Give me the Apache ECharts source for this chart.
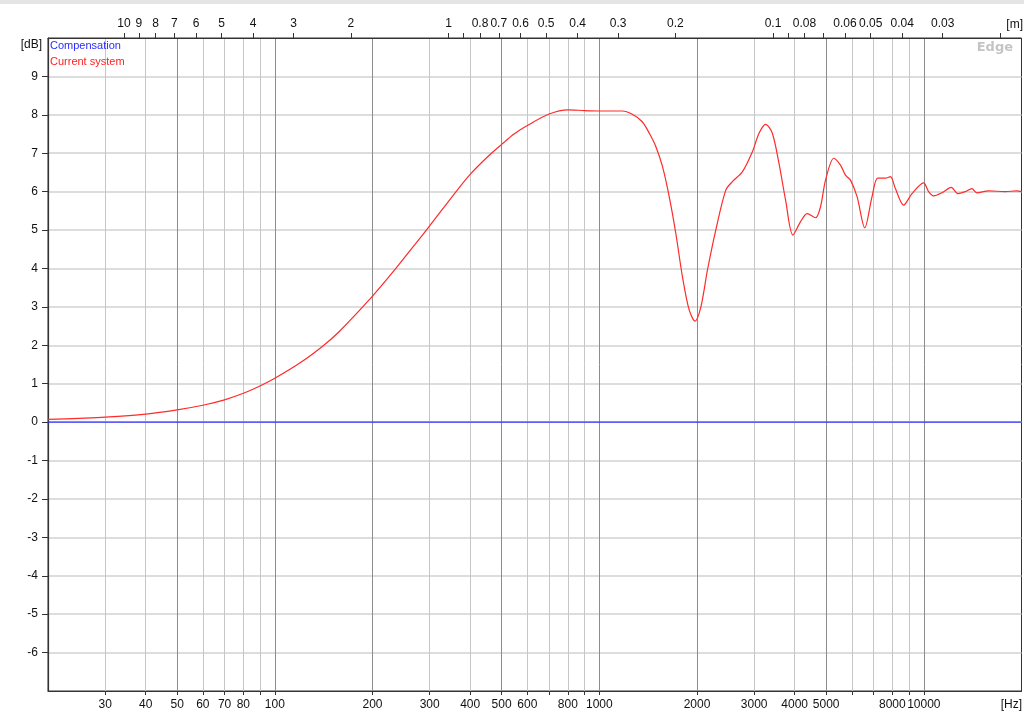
<!DOCTYPE html>
<html>
<head>
<meta charset="utf-8">
<script src="https://cdn.jsdelivr.net/npm/echarts@6/dist/echarts.min.js"></script>
<style>
html,body{margin:0;padding:0;background:#fff;}
#chart{width:1024px;height:723px;}
</style>
</head>
<body>
<div id="chart"></div>
<script>
// ---- data (frequency in Hz, level in dB) ----
const freqHz = [20, 25, 30, 40, 50, 60, 70, 80, 90, 100, 120, 141, 158, 200, 236, 270, 300, 361, 400, 457,
  500, 546, 600, 700, 800, 900, 1000, 1100, 1177, 1260, 1356, 1430, 1494, 1566, 1642, 1721, 1804, 1892, 1972,
  2056, 2154, 2285, 2453, 2571, 2761, 2963, 3106, 3256, 3413, 3577, 3750, 3950, 4171, 4370, 4638, 4806,
  4979, 5280, 5536, 5737, 5943, 6227, 6577, 6925, 7211, 7613, 7888, 8173, 8667, 9193, 9986, 10346, 10719,
  11366, 12151, 12726, 13418, 14060, 14566, 15822, 17807, 19332, 20000];
const currentDb = [0.07, 0.10, 0.13, 0.21, 0.32, 0.44, 0.58, 0.75, 0.94, 1.14, 1.55, 1.99, 2.36, 3.28, 4.0, 4.62, 5.11, 5.99, 6.45, 6.94,
  7.23, 7.5, 7.72, 8.02, 8.13, 8.11, 8.1, 8.1, 8.1, 8.02, 7.82, 7.5, 7.17, 6.65, 5.87, 4.91, 3.78, 2.92, 2.63,
  3.0, 3.96, 5.0, 6.04, 6.26, 6.52, 7.04, 7.52, 7.75, 7.52, 6.74, 5.78, 4.87, 5.22, 5.43, 5.32, 5.61,
  6.30, 6.87, 6.69, 6.43, 6.30, 5.87, 5.06, 5.87, 6.35, 6.35, 6.39, 6.08, 5.65, 5.95, 6.23, 6.0, 5.89,
  5.97, 6.11, 5.95, 6.0, 6.08, 5.97, 6.02, 6.0, 6.02, 6.0];
const compFreqHz = [20, 20000];
const compDb = [0, 0];

// ---- axis ticks / labels ----
const freqMin = 20, freqMax = 20000;
const freqTicks = [30,40,50,60,70,80,90,100,200,300,400,500,600,700,800,900,1000,2000,3000,4000,5000,6000,7000,8000,9000,10000];
const freqLabels = [30,40,50,60,70,80,100,200,300,400,500,600,800,1000,2000,3000,4000,5000,8000,10000];
const majorGridHz = [50,100,200,500,1000,2000,5000,10000];
const minorGridHz = [30,40,60,70,80,90,300,400,600,700,800,900,3000,4000,6000,7000,8000,9000];
const soundSpeed = 343;
const meterTicks = [10,9,8,7,6,5,4,3,2,1,0.9,0.8,0.7,0.6,0.5,0.4,0.3,0.2,0.1,0.09,0.08,0.07,0.06,0.05,0.04,0.03,0.02];
const meterLabels = [10,9,8,7,6,5,4,3,2,1,0.8,0.7,0.6,0.5,0.4,0.3,0.2,0.1,0.08,0.06,0.05,0.04,0.03];
const dbTicks = [-6,-5,-4,-3,-2,-1,0,1,2,3,4,5,6,7,8,9];
const dbMin = -7, dbMax = 10;

const lg = Math.log10;
const FONT = 'Liberation Sans';
const labelStyle = {fontFamily: FONT, fontSize: 12, color: '#111'};
const axisLineStyle = {color: '#333', width: 1.2};

const hiddenGridAxis = (vals, color) => ({
  type: 'value', position: 'bottom', min: lg(freqMin), max: lg(freqMax), show: true,
  axisLine: {show: false, onZero: false}, axisLabel: {show: false},
  axisTick: {show: false, length: 0, lineStyle: {opacity: 0}, customValues: vals.map(lg)},
  splitLine: {show: true, lineStyle: {color: color, width: 1}}
});

const chart = echarts.init(document.getElementById('chart'), null, {renderer: 'canvas'});
chart.setOption({
  animation: false,
  backgroundColor: '#fff',
  grid: {left: 48, right: 2.5, top: 38, bottom: 32, show: true, borderColor: '#333', borderWidth: 1, containLabel: false},
  legend: {
    orient: 'vertical', left: 45, top: 39, padding: 0, itemGap: 3,
    itemWidth: 0, itemHeight: 0, icon: 'rect', selectedMode: false,
    textStyle: {fontFamily: FONT, fontSize: 11, lineHeight: 13},
    data: [
      {name: 'Compensation', textStyle: {color: '#2b2bff'}},
      {name: 'Current system', textStyle: {color: '#ff2020'}}
    ]
  },
  xAxis: [
    {
      type: 'value', position: 'bottom', min: lg(freqMin), max: lg(freqMax),
      axisLine: {show: true, onZero: false, lineStyle: axisLineStyle},
      axisTick: {show: true, length: 4, lineStyle: {color: '#333'}, customValues: freqTicks.map(lg)},
      axisLabel: {show: true, margin: 8, ...labelStyle, customValues: freqLabels.map(lg),
        formatter: v => String(Math.round(Math.pow(10, v)))},
      splitLine: {show: false}
    },
    {
      type: 'value', position: 'top', min: lg(freqMin), max: lg(freqMax),
      axisLine: {show: true, onZero: false, lineStyle: axisLineStyle},
      axisTick: {show: true, length: 5, lineStyle: {color: '#333'}, customValues: meterTicks.map(m => lg(soundSpeed / m))},
      axisLabel: {show: true, margin: 8, ...labelStyle, customValues: meterLabels.map(m => lg(soundSpeed / m)),
        formatter: v => String(parseFloat((soundSpeed / Math.pow(10, v)).toPrecision(2)))},
      splitLine: {show: false}
    },
    hiddenGridAxis(minorGridHz, '#c6c6c6'),
    hiddenGridAxis(majorGridHz, '#8c8c8c')
  ],
  yAxis: {
    type: 'value', min: dbMin, max: dbMax, interval: 1,
    axisLine: {show: true, onZero: false, lineStyle: axisLineStyle},
    axisTick: {show: true, length: 6, lineStyle: {color: '#333'}, customValues: dbTicks},
    axisLabel: {show: true, margin: 10, ...labelStyle, customValues: dbTicks, formatter: v => String(v)},
    splitLine: {show: true, lineStyle: {color: '#d2d2d2', width: 1.5}}
  },
  graphic: [
    {type: 'rect', left: 0, top: 0, shape: {width: 1024, height: 4}, style: {fill: '#e4e4e4'}, silent: true},
    {type: 'text', right: 982, top: 39, style: {text: '[dB]', fontFamily: FONT, fontSize: 12, fill: '#111'}},
    {type: 'text', right: 2, top: 699, style: {text: '[Hz]', fontFamily: FONT, fontSize: 12, fill: '#111'}},
    {type: 'text', right: 1, top: 19, style: {text: '[m]', fontFamily: FONT, fontSize: 12, fill: '#111'}},
    {type: 'text', right: 11, top: 41, style: {text: 'Edge', fontFamily: 'DejaVu Sans', fontWeight: 'bold', fontSize: 13, fill: '#c4c4c4'}}
  ],
  series: [
    {
      name: 'Compensation', type: 'line', xAxisIndex: 0, showSymbol: false, symbol: 'none',
      lineStyle: {color: '#3434ff', width: 1.2}, itemStyle: {color: '#3434ff'},
      data: compFreqHz.map((f, i) => [lg(f), compDb[i]]), z: 3
    },
    {
      name: 'Current system', type: 'line', xAxisIndex: 0, showSymbol: false, symbol: 'none', smooth: 0.3,
      lineStyle: {color: '#ff2a2a', width: 1.2}, itemStyle: {color: '#ff2a2a'},
      data: freqHz.map((f, i) => [lg(f), currentDb[i]]), z: 4
    }
  ]
});
</script>
</body>
</html>
